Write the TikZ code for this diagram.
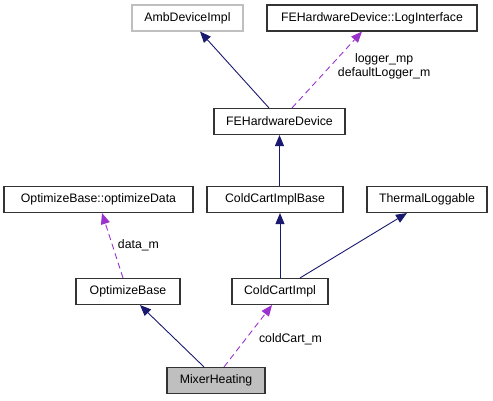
\documentclass[tikz,border=0pt]{standalone}
\usepackage{fontspec}
\setmainfont{Liberation Sans}
\usepackage{xcolor}
\usetikzlibrary{arrows.meta, positioning, calc}
\definecolor{inhblue}{HTML}{191970}
\definecolor{usepurple}{HTML}{9A32CD}
\definecolor{boxgray}{HTML}{BFBFBF}
\tikzset{
  cls/.style={
    rectangle,
    inner sep=0pt,
    minimum height=26pt,
    text centered,
    draw=black!80,
    line width=1.1pt,
    fill=white,
    font=\fontsize{12.3}{14}\selectfont
  },
  inherit/.style={
    draw=inhblue,
    line width=0.9pt,
    -{Triangle[length=11pt,width=9pt]}
  },
  uses/.style={
    draw=usepurple,
    line width=0.9pt,
    dash pattern=on 6pt off 4pt,
    -{Triangle[length=11pt,width=9pt]}
  },
  lbl/.style={font=\fontsize{12.3}{14}\selectfont, align=center, inner sep=1pt}
}

\begin{document}
\begin{tikzpicture}[x=1pt, y=-1pt]
\useasboundingbox (0,0) rectangle (493,400);

% Nodes
\node (amb) [cls, draw=boxgray, minimum width=111pt] at (187.5,18) {AmbDeviceImpl};
\node (logi) [cls, minimum width=210pt] at (372,18) {FEHardwareDevice::LogInterface};
\node (fehw) [cls, minimum width=131pt] at (279.5,121.5) {FEHardwareDevice};
\node (optd) [cls, minimum width=189pt] at (98.5,199.5) {OptimizeBase::optimizeData};
\node (cib) [cls, minimum width=136pt] at (275,199.5) {ColdCartImplBase};
\node (therm) [cls, minimum width=120pt] at (427,199.5) {ThermalLoggable};
\node (optb) [cls, minimum width=104pt] at (128,291.5) {OptimizeBase};
\node (cci) [cls, minimum width=96pt] at (280,291.5) {ColdCartImpl};
\node (mixer) [cls, fill=boxgray, minimum width=98pt] at (216,380.5) {MixerHeating};

% Arrows
\draw [inherit] ($(fehw.north)+(-10.5,0)$) -- ($(amb.south)+(12.5,0)$);
\draw [uses] ($(fehw.north)+(12.5,0)$) -- node[lbl, pos=0.55, right=6pt] {logger\_mp\\defaultLogger\_m} ($(logi.south)+(-10,0)$);
\draw [inherit] (cib.north -| fehw.south) -- (fehw.south);
\draw [inherit] (cci.north) -- (cib.south -| cci.north);
\draw [inherit] ($(cci.north)+(20,0)$) -- ($(therm.south)+(-20,0)$);
\draw [uses] ($(optb.north)+(-5,0)$) -- node[lbl, right=4pt] {data\_m} ($(optd.south)+(3.5,0)$);
\draw [inherit] ($(mixer.north)+(-12,0)$) -- ($(optb.south)+(12,0)$);
\draw [uses] ($(mixer.north)+(8,0)$) -- node[lbl, pos=0.45, right=12pt] {coldCart\_m} ($(cci.south)+(-8,0)$);
\end{tikzpicture}
\end{document}
